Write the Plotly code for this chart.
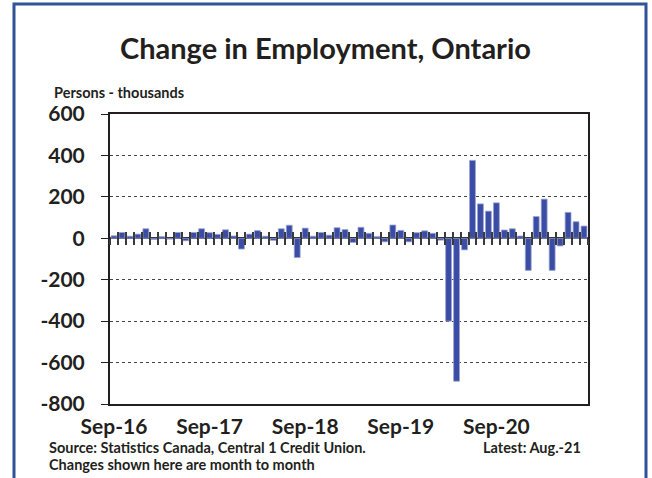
import pandas as pd
import plotly.graph_objects as go

# ---- data (thousands of persons, month-to-month change) ----
months = list(pd.date_range("2016-09-01", periods=60, freq="MS").strftime("%b-%y"))
changes = [
    12, 28, 10, 20, 46, -6, 8, -4, 28, -12, 28, 46,          # Sep-16 .. Aug-17
    27, 19, 41, 11, -52, 20, 37, 10, -10, 46, 63, -93,       # Sep-17 .. Aug-18
    49, 10, 28, 15, 51, 42, -20, 53, 24, 8, -17, 64,         # Sep-18 .. Aug-19
    38, -17, 27, 36, 24, -9, -400, -690, -56, 376, 166, 131, # Sep-19 .. Aug-20
    171, 40, 46, 11, -155, 105, 189, -155, -37, 125, 80, 59, # Sep-20 .. Aug-21
]
x_tick_labels = ["Sep-16", "Sep-17", "Sep-18", "Sep-19", "Sep-20"]
y_ticks = [-800, -600, -400, -200, 0, 200, 400, 600]
y_tick_text = ["-800", "-600", "-400", "-200", "0", "200", "400", "600"]

# ---- layout geometry (pixels) ----
W, H = 652, 478
L, R, T, B = 110, 588, 114, 404
pw, ph = R - L, B - T

def fx(px):
    return (px - L) / pw

def fy(py):
    return (B - py) / ph

ink = "#231F20"
bar_col = "#3A4CA4"
font_fam = "Lato"

fig = go.Figure()
fig.add_trace(go.Bar(
    x=months, y=changes,
    marker=dict(color=bar_col, line=dict(color="#9AA4D6", width=0.8)),
    width=0.74, hoverinfo="x+y",
))
# invisible helpers so the cross-tick axes at y=0 are drawn
for ax in ("x2", "x3"):
    fig.add_trace(go.Scatter(x=[0], y=[None], xaxis=ax, yaxis="y",
                             mode="markers", showlegend=False, hoverinfo="skip"))

zero_frac = (0 - (-800)) / (600 - (-800))

fig.update_layout(
    width=W, height=H,
    margin=dict(l=L, r=W - R, t=T, b=H - B, pad=0),
    paper_bgcolor="white", plot_bgcolor="white",
    showlegend=False,
    font=dict(family=font_fam, color=ink),
    xaxis=dict(
        type="category", categoryorder="array", categoryarray=months,
        range=[-0.5, 59.5],
        tickmode="array", tickvals=x_tick_labels, ticktext=x_tick_labels,
        ticks="", showgrid=False, zeroline=False,
        showline=True, linecolor=ink, linewidth=1.5, mirror=True,
        tickfont=dict(family=font_fam, size=21, color=ink, weight="bold"),
        ticklabelstandoff=3,
    ),
    xaxis2=dict(
        overlaying="x", anchor="free", position=zero_frac, side="bottom",
        type="linear", range=[-0.5, 59.5], tickmode="linear", tick0=0.5, dtick=1,
        ticks="outside", ticklen=6, tickwidth=1.8, tickcolor="#3a3a3a",
        showticklabels=False, showgrid=False, zeroline=False, showline=False,
    ),
    xaxis3=dict(
        overlaying="x", anchor="free", position=zero_frac, side="bottom",
        type="linear", range=[-0.5, 59.5], tickmode="linear", tick0=0.5, dtick=1,
        ticks="inside", ticklen=6, tickwidth=1.8, tickcolor="#3a3a3a",
        showticklabels=False, showgrid=False, zeroline=False, showline=False,
    ),
    yaxis=dict(
        range=[-800, 600], tickmode="array", tickvals=y_ticks, ticktext=y_tick_text,
        ticks="outside", ticklen=7, tickwidth=1.2, tickcolor=ink,
        showline=True, linecolor=ink, linewidth=2, mirror=True,
        showgrid=True, gridcolor="#444444", griddash="dot", gridwidth=1.2,
        zeroline=True, zerolinecolor=ink, zerolinewidth=2,
        tickfont=dict(family=font_fam, size=21, color=ink, weight="bold"),
        ticklabelstandoff=12,
    ),
)

annotations = [
    dict(text="Change in Employment, Ontario", x=fx(325), y=fy(47),
         xanchor="center", yanchor="middle", font=dict(size=29, weight="bold")),
    dict(text="Persons - thousands", x=fx(52), y=fy(93),
         xanchor="left", yanchor="middle", font=dict(size=14.5, weight="bold")),
    dict(text="Source: Statistics Canada, Central 1 Credit Union.", x=fx(47), y=fy(447),
         xanchor="left", yanchor="middle", font=dict(size=14.5, weight="bold")),
    dict(text="Latest: Aug.-21", x=fx(583), y=fy(447),
         xanchor="right", yanchor="middle", font=dict(size=14.5, weight="bold")),
    dict(text="Changes shown here are month to month", x=fx(47), y=fy(464),
         xanchor="left", yanchor="middle", font=dict(size=14.5, weight="bold")),
]
for a in annotations:
    a.update(xref="paper", yref="paper", showarrow=False)
    a["font"].update(family=font_fam, color=ink)
fig.update_layout(annotations=annotations)

# outer blue frame
fig.add_shape(type="rect", xref="paper", yref="paper",
              x0=fx(14), x1=fx(646), y0=fy(490), y1=fy(4),
              line=dict(color="#2F5597", width=3), fillcolor="rgba(0,0,0,0)",
              layer="above")

fig.write_html("out.html")
